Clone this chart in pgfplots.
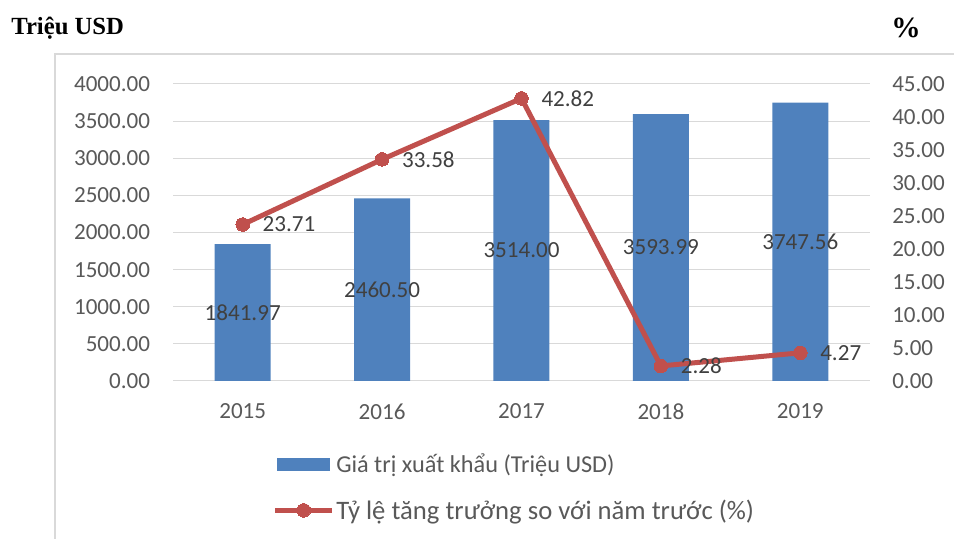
\documentclass[border=0pt]{standalone}
\usepackage{pgfplots}
\usepackage{pgfplotstable}
\pgfplotsset{compat=1.18}
\usepackage{fontspec}
\setmainfont{Carlito}
\newfontfamily\titlefont{Liberation Serif}
\definecolor{barblue}{HTML}{4F81BD}
\definecolor{linered}{HTML}{C0504D}
\definecolor{gridgray}{HTML}{D9D9D9}
\definecolor{ticktext}{HTML}{595959}
\definecolor{labeltext}{HTML}{404040}
\newcommand{\chartfont}{\fontsize{17.3}{20.8}\selectfont}
\pgfplotsset{
  barlegend/.style={legend image code/.code={\fill[barblue] (1.5pt,-4.5pt) rectangle (40.5pt,4.5pt);}},
  widelinelegend/.style={legend image code/.code={\draw[mark repeat=2,mark phase=2,##1] plot coordinates {(0pt,0pt) (21.5pt,0pt) (43pt,0pt)};}},
  commonaxis/.style={
    scale only axis, width=522.75pt, height=222.75pt,
    at={(129.75pt,118.5pt)}, anchor=south west,
    xmin=-0.5, xmax=4.5,
    major tick length=0pt,
    tick label style={font=\chartfont, text=ticktext},
    /pgf/number format/.cd, fixed, fixed zerofill, precision=2, 1000 sep={}, assume math mode=true,
  },
}
\pgfplotstableread{
x year value growth
0 2015 1841.97 23.71
1 2016 2460.50 33.58
2 2017 3514.00 42.82
3 2018 3593.99 2.28
4 2019 3747.56 4.27
}\datatable
\begin{document}
\begin{tikzpicture}
\path[use as bounding box] (0pt,0pt) rectangle (715.5pt,404.25pt);
\draw[gridgray, line width=1.2pt] (41.25pt,-5pt) -- (41.25pt,363.75pt) -- (720pt,363.75pt);
\node[anchor=west, font=\titlefont\bfseries\fontsize{18.5}{22}\selectfont] at (5pt,383.25pt) {Triệu USD};
\node[font=\titlefont\bfseries\fontsize{22}{26}\selectfont] at (679.5pt,383.5pt) {\%};
\begin{axis}[commonaxis,
  ymin=0, ymax=4000,
  ytick={0,500,...,4000},
  xtick={0,1,2,3,4},
  xticklabels={2015,2016,2017,2018,2019},
  axis line style={draw=none},
  ymajorgrids,
  grid style={gridgray, line width=0.75pt},
  yticklabel style={anchor=east, inner sep=0pt, xshift=-17pt},
  xticklabel style={anchor=north, inner sep=0pt, yshift=-17pt},
]
\addplot[ybar, bar width=42pt, bar shift=0pt, fill=barblue, draw=none] table[x=x, y=value]{\datatable};
\addplot[draw=none, mark=none, nodes near coords, point meta=explicit,
  every node near coord/.append style={anchor=center, inner sep=0pt, font=\chartfont, text=labeltext}]
  table[x=x, y expr=\thisrow{value}/2, meta=value]{\datatable};
\end{axis}
\begin{axis}[commonaxis,
  ymin=0, ymax=45,
  ytick={0,5,...,45},
  hide x axis,
  axis y line*=right,
  axis line style={draw=none},
  yticklabel style={anchor=west, inner sep=0pt, xshift=16.5pt},
  legend style={at={(axis description cs:0.1425,-0.241)}, anchor=north west, draw=none, fill=none,
    text=ticktext, row sep=16.5pt, column sep=0pt, inner sep=0pt, nodes={inner sep=1pt}},
  legend cell align=left,
]
\addlegendimage{barlegend}
\addlegendentry[font=\fontsize{18.2}{21}\selectfont]{Giá trị xuất khẩu (Triệu USD)}
\addplot[linered, line width=3.75pt, mark=*, mark size=5.1pt,
  mark options={fill=linered, draw=linered, line width=0pt},
  widelinelegend,
  nodes near coords, point meta=explicit,
  every node near coord/.append style={anchor=west, inner sep=0pt, xshift=15pt, font=\chartfont, text=labeltext}]
  table[x=x, y=growth, meta=growth]{\datatable};
\addlegendentry[font=\fontsize{20}{23}\selectfont]{Tỷ lệ tăng trưởng so với năm trước (\%)}
\end{axis}
\end{tikzpicture}
\end{document}
